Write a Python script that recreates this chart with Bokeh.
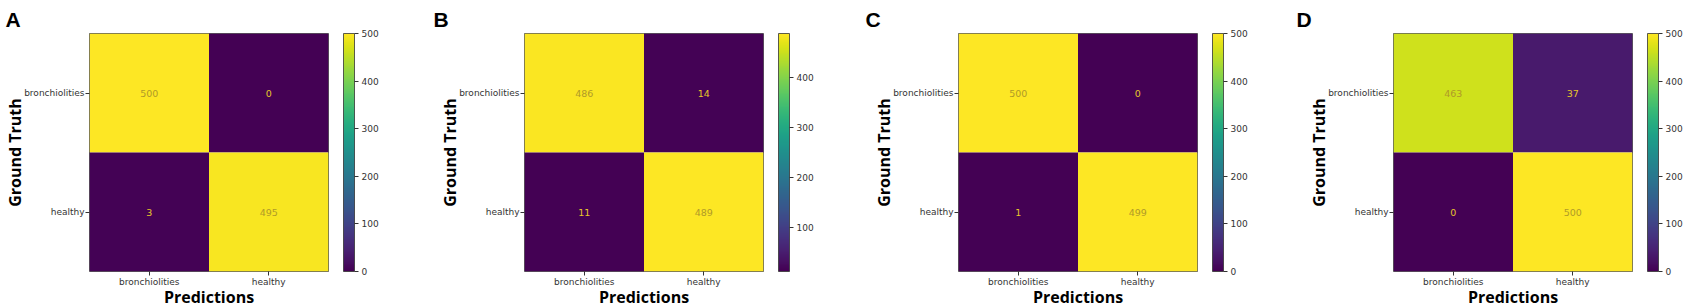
from bokeh.plotting import figure
from bokeh.layouts import row
from bokeh.models import (FactorRange, LinearColorMapper, ColorBar, FixedTicker,
                          ColumnDataSource, Title)
from bokeh.palettes import Viridis256
from bokeh.transform import transform
from bokeh.core.properties import value
from bokeh.embed import file_html
from bokeh.resources import INLINE

# ---- data -------------------------------------------------------------
classes = ["bronchiolities", "healthy"]
panel_letters = ["A", "B", "C", "D"]
cm_A = [[500, 0], [3, 495]]
cm_B = [[486, 14], [11, 489]]
cm_C = [[500, 0], [1, 499]]
cm_D = [[463, 37], [0, 500]]
matrices = [cm_A, cm_B, cm_C, cm_D]
cbar_ticks = [0, 100, 200, 300, 400, 500]
x_title = "Predictions"
y_title = "Ground Truth"

# ---- layout constants -------------------------------------------------
FRAME_W, FRAME_H = 239, 238
TOP, BOTTOM = 33, 36
LEFTS = [89, 94, 98, 103]
WIDTHS = [430, 430, 430, 397]
LETTER_X = [5, 3, 5, 6]

TICK_FONT = "DejaVu Sans"
TXT_COLOR = "#333333"

figs = []
for i, (letter, cm) in enumerate(zip(panel_letters, matrices)):
    xs, ys, vals, txt = [], [], [], []
    for r, truth in enumerate(classes):
        for c, pred in enumerate(classes):
            xs.append(pred)
            ys.append(truth)
            vals.append(cm[r][c])
            txt.append(str(cm[r][c]))
    lo, hi = min(vals), max(vals)
    mid = (lo + hi) / 2.0
    tcol = ["#b09a28" if v > mid else "#e6c62a" for v in vals]
    mapper = LinearColorMapper(palette=Viridis256, low=lo, high=hi)
    src = ColumnDataSource(dict(x=xs, y=ys, v=vals, t=txt, tc=tcol))

    left = LEFTS[i]
    right = WIDTHS[i] - left - FRAME_W
    p = figure(x_range=FactorRange(*classes),
               y_range=FactorRange(*reversed(classes)),
               frame_width=FRAME_W, frame_height=FRAME_H,
               min_border_left=left, min_border_right=right,
               min_border_top=TOP, min_border_bottom=BOTTOM,
               output_backend="svg", toolbar_location=None,
               background_fill_color="white", border_fill_color="white")
    p.rect(x="x", y="y", width=1, height=1, source=src,
           fill_color=transform("v", mapper), line_color=None)
    p.text(x="x", y="y", text="t", source=src,
           text_align="center", text_baseline="middle",
           text_font=value(TICK_FONT), text_font_size="9.5px",
           text_color="tc")

    p.grid.visible = False
    p.outline_line_color = "#333333"
    p.outline_line_width = 0.8
    for ax in (p.xaxis[0], p.yaxis[0]):
        ax.axis_line_color = None
        ax.major_tick_line_color = TXT_COLOR
        ax.major_tick_out = 4
        ax.major_tick_in = 0
        ax.major_label_text_font = TICK_FONT
        ax.major_label_text_font_size = "9px"
        ax.major_label_text_color = TXT_COLOR
        ax.axis_label_text_font = "Open Sans"
        ax.axis_label_text_font_style = "bold"
        ax.axis_label_text_font_size = "16px"
        ax.axis_label_text_color = "black"
    p.xaxis.major_label_standoff = 1
    p.xaxis.axis_label_standoff = -4
    p.yaxis.major_label_standoff = 1
    p.yaxis.axis_label_standoff = -5
    p.xaxis.axis_label = x_title
    p.yaxis.axis_label = y_title

    cb = ColorBar(color_mapper=mapper, ticker=FixedTicker(ticks=cbar_ticks),
                  width=11, height=FRAME_H, margin=0, padding=0,
                  location=(15, 0),
                  bar_line_color="#333333", bar_line_width=0.8,
                  major_tick_in=0, major_tick_out=4,
                  major_tick_line_color=TXT_COLOR,
                  minor_tick_line_color=None,
                  label_standoff=3,
                  major_label_text_font=TICK_FONT,
                  major_label_text_font_size="9px",
                  major_label_text_color=TXT_COLOR,
                  background_fill_color=None, border_line_color=None)
    p.add_layout(cb, "right")

    t = Title(text=letter, align="left", offset=LETTER_X[i] - left,
              text_font="Liberation Sans", text_font_style="bold",
              text_font_size="21px", text_color="black", standoff=6)
    p.add_layout(t, "above")
    figs.append(p)

layout = row(*figs, spacing=0)
open("out.html", "w").write(file_html(layout, INLINE))
